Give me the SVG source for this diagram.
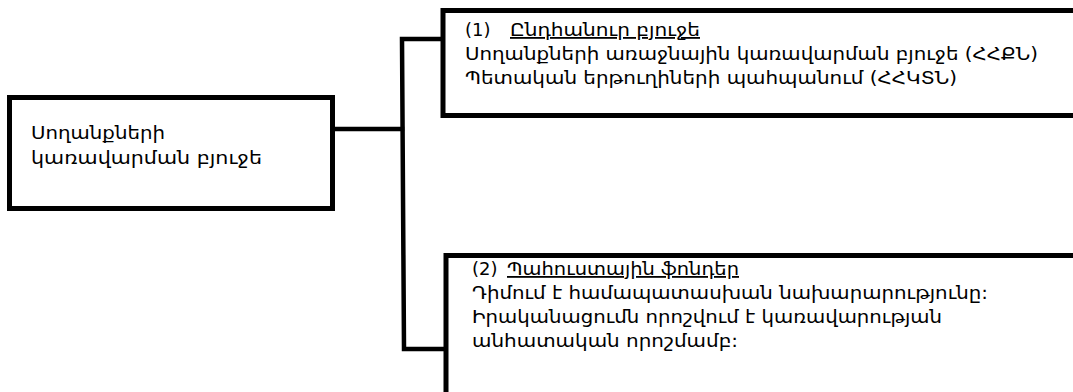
<svg xmlns="http://www.w3.org/2000/svg" width="1073" height="392" viewBox="0 0 1073 392">
  <style>
    .box { fill: #ffffff; stroke: #000000; stroke-width: 5; }
    .link { fill: none; stroke: #000000; stroke-width: 4.5; stroke-linejoin: miter; stroke-linecap: square; }
    .txt { font-family: "DejaVu Sans", "Noto Sans", sans-serif; font-size: 18px; fill: #000000; }
    .ul { text-decoration: underline; }
  </style>
  <rect width="1073" height="392" fill="#ffffff"/>

  <!-- connectors -->
  <g id="connectors">
    <path class="link" d="M335 129 H402"/>
    <path class="link" d="M443 39 H402 L404 349 H446"/>
  </g>

  <!-- root node -->
  <g id="node-root">
    <rect class="box" x="9.5" y="97.5" width="323" height="111"/>
    <text class="txt" x="31" y="139" textLength="134" lengthAdjust="spacingAndGlyphs">Սողանքների</text>
    <text class="txt" x="31" y="164" textLength="231" lengthAdjust="spacingAndGlyphs">կառավարման բյուջե</text>
  </g>

  <!-- general budget -->
  <g id="node-general">
    <rect class="box" x="443" y="10.5" width="640" height="105"/>
    <text class="txt" x="465" y="36">(1)</text>
    <text class="txt ul" x="510" y="36" textLength="190" lengthAdjust="spacingAndGlyphs">Ընդհանուր բյուջե</text>
    <text class="txt" x="465" y="60" textLength="573" lengthAdjust="spacingAndGlyphs">Սողանքների առաջնային կառավարման բյուջե (ՀՀՔՆ)</text>
    <text class="txt" x="465" y="84" textLength="492" lengthAdjust="spacingAndGlyphs">Պետական երթուղիների պահպանում (ՀՀԿՏՆ)</text>
  </g>

  <!-- reserve funds -->
  <g id="node-reserve">
    <rect class="box" x="446" y="255.5" width="640" height="150"/>
    <text class="txt" x="472" y="275">(2)</text>
    <text class="txt ul" x="507" y="275" textLength="232" lengthAdjust="spacingAndGlyphs">Պահուստային ֆոնդեր</text>
    <text class="txt" x="472" y="299" textLength="516" lengthAdjust="spacingAndGlyphs">Դիմում է համապատասխան նախարարությունը:</text>
    <text class="txt" x="472" y="323" textLength="470" lengthAdjust="spacingAndGlyphs">Իրականացումն որոշվում է կառավարության</text>
    <text class="txt" x="472" y="347" textLength="266" lengthAdjust="spacingAndGlyphs">անհատական որոշմամբ:</text>
  </g>
</svg>
